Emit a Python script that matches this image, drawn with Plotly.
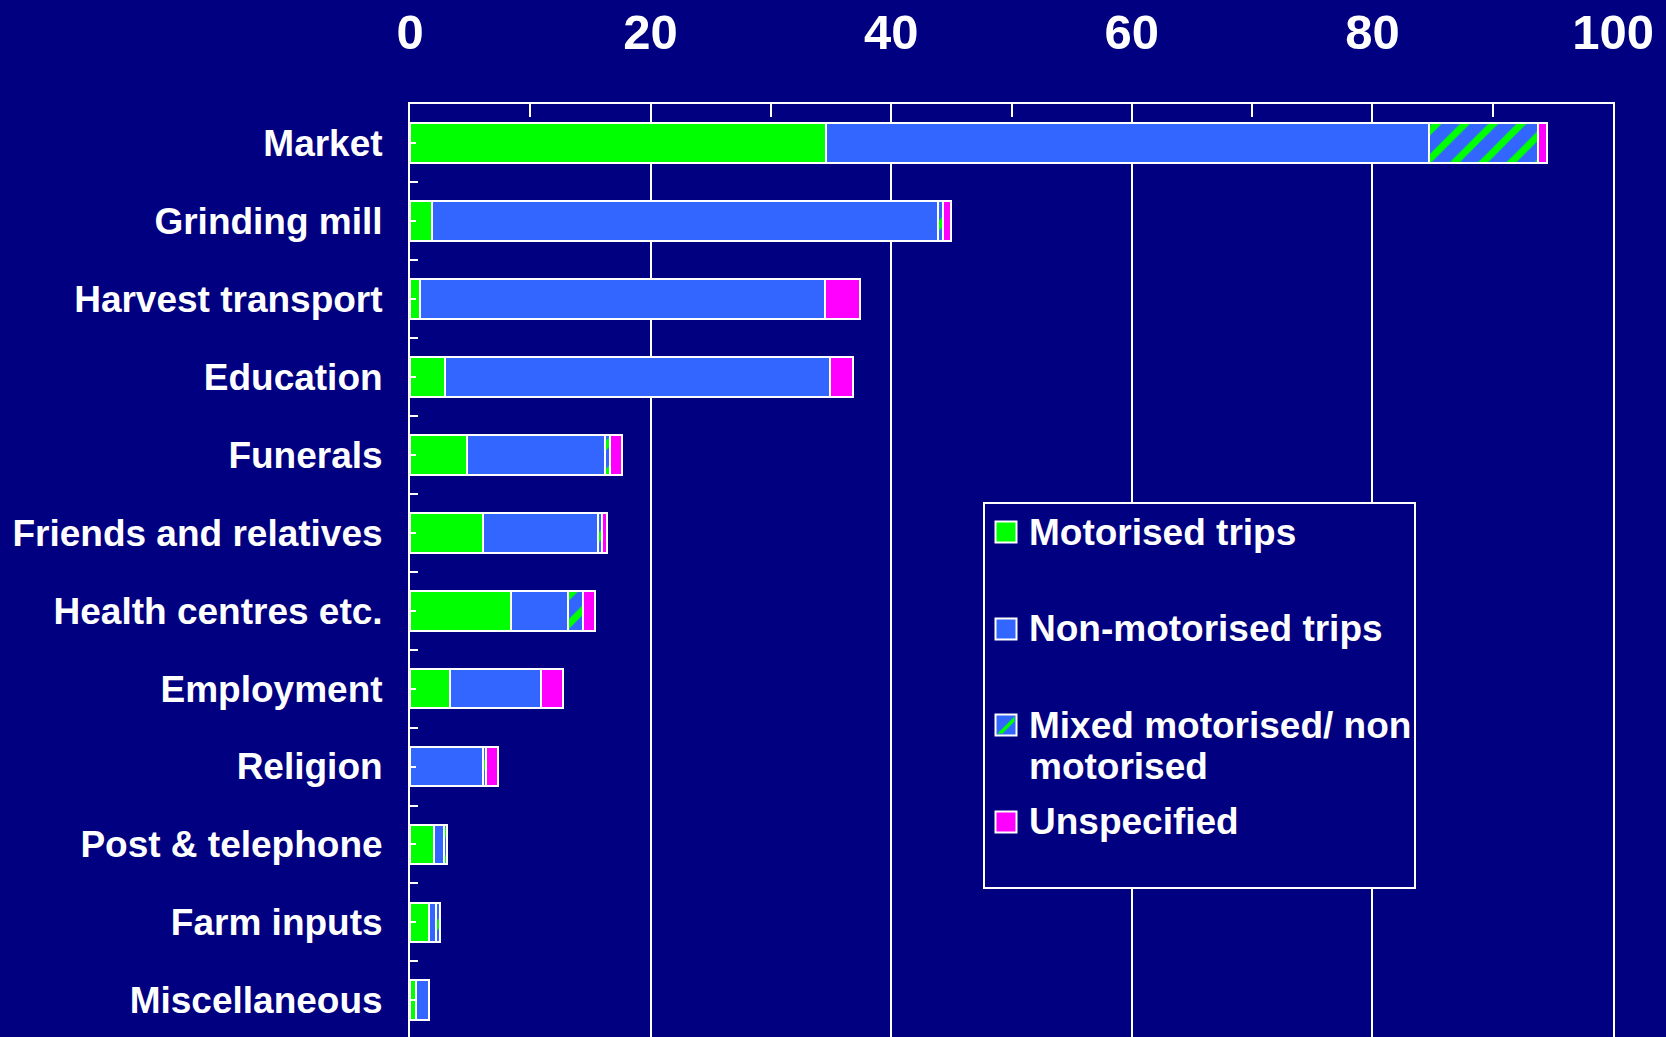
import plotly.graph_objects as go

# Trip purposes, top to bottom
categories = [
    "Market", "Grinding mill", "Harvest transport", "Education", "Funerals",
    "Friends and relatives", "Health centres etc.", "Employment", "Religion",
    "Post & telephone", "Farm inputs", "Miscellaneous",
]

# Share of trips by mode (%)
motorised = [34.6, 1.8, 0.8, 2.9, 4.7, 6.1, 8.4, 3.3, 0.0, 2.0, 1.6, 0.5]
non_motorised = [50.1, 42.1, 33.7, 32.0, 11.5, 9.5, 4.7, 7.6, 6.1, 0.8, 0.55, 1.1]
mixed = [9.1, 0.4, 0.0, 0.0, 0.4, 0.35, 1.3, 0.0, 0.2, 0.3, 0.33, 0.0]
unspecified = [0.7, 0.7, 2.9, 1.9, 1.0, 0.45, 1.0, 1.8, 1.05, 0.0, 0.0, 0.0]

x_ticks = [0, 20, 40, 60, 80, 100]

series_names = [
    "Motorised trips", "Non-motorised trips",
    "Mixed motorised/ non motorised", "Unspecified",
]

NAVY = "#000080"
GREEN = "#00FF00"
BLUE = "#3366FF"
MAGENTA = "#FF00FF"
WHITE = "#FFFFFF"
FONT = "Liberation Sans"

positions = list(range(len(categories)))
boundaries = [p - 0.5 for p in positions] + [positions[-1] + 0.5]

W, H = 1666, 1037
ML, MR, MT, MB = 410, 53, 104, 0
PW, PH = W - ML - MR, H - MT - MB


def px(x):
    return (x - ML) / PW


def py(y):
    return (H - MB - y) / PH


fig = go.Figure()

styles = [
    dict(color=GREEN),
    dict(color=BLUE),
    dict(color=BLUE, pattern=dict(shape="/", fgcolor=GREEN, bgcolor=BLUE,
                                  size=20, solidity=0.35, fillmode="replace")),
    dict(color=MAGENTA),
]

for name, vals, st in zip(series_names, [motorised, non_motorised, mixed, unspecified], styles):
    fig.add_trace(go.Bar(
        y=positions, x=vals, orientation="h", name=name, width=0.51,
        marker=dict(line=dict(color=WHITE, width=2), **st),
        showlegend=False,
    ))

# Legend panel drawn as layout shapes and text
shapes = [
    dict(type="rect", xref="paper", yref="paper",
         x0=px(984), x1=px(1415), y0=py(888), y1=py(503),
         line=dict(color=WHITE, width=2), fillcolor=NAVY, layer="above"),
]
annotations = []
legend_rows = [
    (532, GREEN, ["Motorised trips"]),
    (629, BLUE, ["Non-motorised trips"]),
    (725, BLUE, ["Mixed motorised/ non", "motorised"]),
    (822, MAGENTA, ["Unspecified"]),
]
sx0, sx1 = 995.5, 1016.5
for i, (cy, col, lines) in enumerate(legend_rows):
    y0, y1 = cy - 10.5, cy + 10.5
    shapes.append(dict(type="rect", xref="paper", yref="paper",
                       x0=px(sx0), x1=px(sx1), y0=py(y1), y1=py(y0),
                       line=dict(color=WHITE, width=2), fillcolor=col, layer="above"))
    if i == 2:
        pts = [(sx0 + 2, y1 - 2), (sx0 + 7, y1 - 2), (sx1 - 2, y0 + 7), (sx1 - 2, y0 + 2)]
        path = "M " + " L ".join(f"{px(a):.5f},{py(b):.5f}" for a, b in pts) + " Z"
        shapes.append(dict(type="path", xref="paper", yref="paper", path=path,
                           fillcolor=GREEN, line=dict(width=0), layer="above"))
    for k, txt in enumerate(lines):
        annotations.append(dict(
            x=px(1027), y=py(cy + k * 41.5), xref="paper", yref="paper",
            xanchor="left", yanchor="middle", showarrow=False, text=txt,
            font=dict(family=FONT, size=37, color=WHITE, weight="bold"),
        ))

fig.update_layout(
    width=W, height=H,
    margin=dict(l=ML, r=MR, t=MT, b=MB, pad=0, autoexpand=False),
    paper_bgcolor=NAVY, plot_bgcolor=NAVY,
    barmode="stack",
    shapes=shapes, annotations=annotations,
    xaxis=dict(
        range=[0, 100], side="top", tickmode="array", tickvals=x_ticks,
        ticktext=[str(t) for t in x_ticks],
        showgrid=True, gridcolor=WHITE, gridwidth=2,
        showline=True, linecolor=WHITE, linewidth=2, mirror=False,
        ticks="inside", ticklen=13, tickwidth=2, tickcolor=WHITE,
        minor=dict(tickmode="linear", tick0=0, dtick=10, ticks="inside",
                   ticklen=13, tickwidth=2, tickcolor=WHITE, showgrid=False),
        tickfont=dict(family=FONT, size=49, color=WHITE, weight="bold"),
        ticklabelstandoff=33, zeroline=False, fixedrange=True, automargin=False,
    ),
    yaxis=dict(
        range=[len(categories) - 0.53, -0.5],
        tickmode="array", tickvals=positions, ticktext=categories,
        showline=True, linecolor=WHITE, linewidth=2, mirror=True,
        ticks="inside", ticklen=6, tickwidth=2, tickcolor=WHITE,
        minor=dict(tickmode="array", tickvals=boundaries, ticks="inside",
                   ticklen=8, tickwidth=2, tickcolor=WHITE, showgrid=False),
        showgrid=False, zeroline=False,
        tickfont=dict(family=FONT, size=37, color=WHITE, weight="bold"),
        ticklabelstandoff=18, fixedrange=True, automargin=False,
    ),
)

fig.write_html("out.html")
